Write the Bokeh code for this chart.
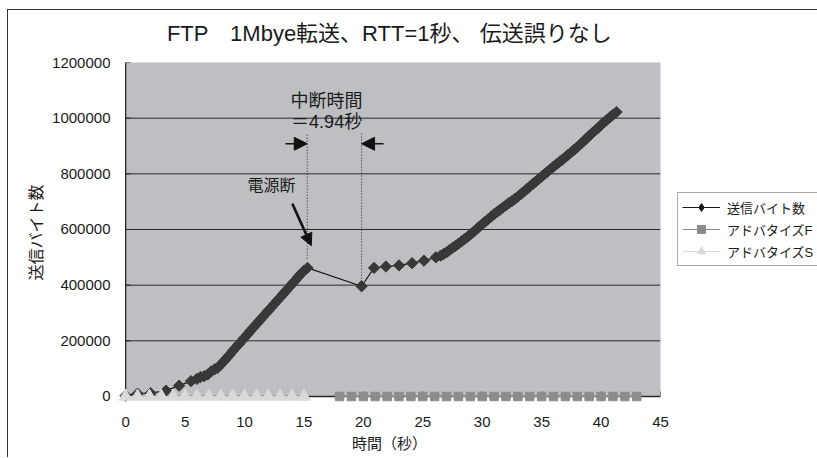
import math
from bokeh.plotting import figure
from bokeh.models import (FixedTicker, BoxAnnotation, Arrow, NormalHead, Label, Title,
                          PrintfTickFormatter, Legend, LegendItem)
from bokeh.embed import file_html
from bokeh.resources import INLINE

# ---------------- data ----------------
sent_t = [0.0, 1.0, 2.1, 3.4, 4.5, 5.5, 6.0, 6.3, 6.6, 6.9, 7.2, 7.5,
          7.75, 8.0, 8.25, 8.5, 8.75, 9.0, 9.25, 9.5, 9.75, 10.0,
          10.25, 10.5, 10.75, 11.0, 11.25, 11.5, 11.75, 12.0, 12.25, 12.5,
          12.75, 13.0, 13.25, 13.5, 13.75, 14.0, 14.25, 14.5, 14.75, 15.0, 15.3,
          19.85, 20.9, 21.9, 23.0, 24.1, 25.1, 26.1,
          26.5, 26.75, 27.0, 27.25, 27.5, 27.75, 28.0, 28.25, 28.5, 28.75,
          29.0, 29.25, 29.5, 29.75, 30.0, 30.25, 30.5, 30.75, 31.0, 31.25,
          31.5, 31.75, 32.0, 32.25, 32.5, 32.75, 33.0, 33.25, 33.5, 33.75,
          34.0, 34.25, 34.5, 34.75, 35.0, 35.25, 35.5, 35.75, 36.0, 36.25,
          36.5, 36.75, 37.0, 37.25, 37.5, 37.75, 38.0, 38.25, 38.5, 38.75,
          39.0, 39.25, 39.5, 39.75, 40.0, 40.25, 40.5, 40.75, 41.0, 41.3]
sent_bytes = [3000, 10000, 12000, 21000, 39000, 55000, 63000, 70000, 73000, 79000, 90000, 98000,
              103000, 114000, 126000, 138000, 150000, 163000, 175000, 187000, 199000, 211000,
              223000, 236000, 248000, 260000, 272000, 284000, 296000, 308000, 320000, 332000,
              344000, 356000, 368000, 380000, 392000, 404000, 416000, 429000, 441000, 452000, 462000,
              396000, 462000, 467000, 471000, 479000, 488000, 500000,
              506000, 512000, 518000, 526000, 534000, 541000, 549000, 557000, 565000, 573000,
              582000, 591000, 600000, 610000, 619000, 628000, 637000, 646000, 655000, 663000,
              671000, 679000, 687000, 695000, 702000, 710000, 718000, 727000, 736000, 745000,
              754000, 763000, 772000, 781000, 790000, 799000, 808000, 817000, 826000, 834000,
              843000, 851000, 860000, 869000, 878000, 887000, 896000, 906000, 916000, 926000,
              936000, 946000, 956000, 965000, 975000, 985000, 994000, 1003000, 1012000, 1022000]

adv_f_t = [18, 19, 20, 21, 22, 23, 24, 25, 26, 27, 28, 29, 30, 31, 32, 33, 34,
           35, 36, 37, 38, 39, 40, 41, 42, 43]
adv_f = [0, 0, 0, 0, 0, 0, 0, 0, 0, 0, 0, 0, 0, 0, 0, 0, 0,
         0, 0, 0, 0, 0, 0, 0, 0, 0]

adv_s_t = [0, 1, 2, 3, 4, 5, 6, 7, 8, 9, 10, 11, 12, 13, 14, 15]
adv_s = [0, 0, 0, 0, 0, 0, 0, 0, 0, 0, 0, 0, 0, 0, 0, 0]

x_ticks = [0, 5, 10, 15, 20, 25, 30, 35, 40, 45]
y_ticks = [0, 200000, 400000, 600000, 800000, 1000000, 1200000]

series_names = ["送信バイト数", "アドバタイズF", "アドバタイズS"]
title_text = "FTP\u30001Mbye転送、RTT=1秒、 伝送誤りなし"

# ---------------- styling ----------------
FONT = "Liberation Sans, Noto Sans CJK JP"
X_MAX = x_ticks[-1]
Y_MAX = y_ticks[-1]

p = figure(frame_width=542, frame_height=340,
           x_range=(-0.6, X_MAX), y_range=(-21600, Y_MAX),
           min_border_left=110, min_border_right=157,
           min_border_top=52, min_border_bottom=56,
           output_backend="svg", toolbar_location=None,
           title=None,
           background_fill_color="white", border_fill_color="white",
           outline_line_color=None,
           styles={"position": "relative", "left": "8px", "top": "10px",
                   "box-shadow": "-1px -1px 0 0 #333333"})

# spacer next to the frame, then the title above it
p.add_layout(Title(text=" ", text_font_size="13px", standoff=0), "above")
p.add_layout(Title(text=title_text, text_font=FONT, text_font_size="22px",
                   text_font_style="normal", text_color="#1a1a1a",
                   align="center", standoff=0), "above")

p.xgrid.visible = False
p.ygrid.visible = False

for ax in (p.xaxis, p.yaxis):
    ax.axis_line_color = None
    ax.major_tick_line_color = None
    ax.minor_tick_line_color = None
    ax.major_tick_in = 0
    ax.major_tick_out = 0
    ax.minor_tick_in = 0
    ax.minor_tick_out = 0
    ax.major_label_text_font = FONT
    ax.major_label_text_font_size = "15px"
    ax.major_label_text_color = "#1a1a1a"
    ax.axis_label_text_font = FONT
    ax.axis_label_text_font_size = "15px"
    ax.axis_label_text_font_style = "normal"
    ax.axis_label_text_color = "#1a1a1a"

p.xaxis.ticker = FixedTicker(ticks=x_ticks)
p.xaxis.major_label_standoff = 14
p.xaxis.axis_label = "時間（秒）"
p.xaxis.axis_label_standoff = 5

p.yaxis.ticker = FixedTicker(ticks=y_ticks)
p.yaxis.formatter = PrintfTickFormatter(format="%d")
p.yaxis.major_label_standoff = 8
p.yaxis.axis_label = "送信バイト数"
p.yaxis.axis_label_text_font_size = "16px"
p.yaxis.axis_label_standoff = 4

# plot area background
p.add_layout(BoxAnnotation(left=0, right=X_MAX, bottom=0, top=Y_MAX,
                           fill_color="#bebfc3", fill_alpha=1.0,
                           line_color="#7a7a7a", line_width=1, level="underlay"))

# horizontal grid lines
grid_y = y_ticks[1:-1]
p.segment(x0=[0] * len(grid_y), x1=[X_MAX] * len(grid_y), y0=grid_y, y1=grid_y,
          line_color="#2a2a2a", line_width=1)

# axis lines + inward ticks
p.segment(x0=[0, 0], y0=[0, 0], x1=[X_MAX, 0], y1=[0, Y_MAX], line_color="#2a2a2a", line_width=1.3)
p.segment(x0=x_ticks, x1=x_ticks, y0=[0] * len(x_ticks), y1=[18000] * len(x_ticks),
          line_color="#2a2a2a", line_width=1)
p.segment(x0=[0] * len(y_ticks), x1=[0.42] * len(y_ticks), y0=y_ticks, y1=y_ticks,
          line_color="#2a2a2a", line_width=1)

# series
l1 = p.line(sent_t, sent_bytes, line_color="#1a1a1a", line_width=1.2)
# diamond symbol used for the legend entry (sits hidden beneath the main markers)
k1 = p.scatter(sent_t, sent_bytes, marker="diamond", size=9,
               fill_color="#1a1a1a", line_color="#1a1a1a")
m1 = p.scatter(sent_t, sent_bytes, marker="square", angle=math.pi / 4, size=8,
               fill_color="#383838", line_color="#383838")

l2 = p.line(adv_f_t, adv_f, line_color="#8c8c8c", line_width=1)
m2 = p.scatter(adv_f_t, adv_f, marker="square", size=8.5,
               fill_color="#8c8c8c", line_color="#8c8c8c")

l3 = p.line(adv_s_t, adv_s, line_color="#d9d9d9", line_width=1)
m3 = p.scatter(adv_s_t, adv_s, marker="triangle", size=13,
               fill_color="#d9d9d9", line_color="#d9d9d9")

# annotations
cut_t, resume_t = 15.28, 19.85
p.segment(x0=[cut_t, resume_t], x1=[cut_t, resume_t], y0=[495000, 402000], y1=[944000, 944000],
          line_color="#222222", line_width=1, line_dash="1 2")

head = dict(fill_color="#111111", line_color="#111111")
p.add_layout(Arrow(end=NormalHead(size=13, **head), x_start=13.45, y_start=908000,
                   x_end=cut_t, y_end=908000, line_color="#111111", line_width=1.5))
p.add_layout(Arrow(end=NormalHead(size=13, **head), x_start=21.7, y_start=908000,
                   x_end=resume_t, y_end=908000, line_color="#111111", line_width=1.5))
p.add_layout(Arrow(end=NormalHead(size=12, **head), x_start=14.02, y_start=693000,
                   x_end=15.62, y_end=542000, line_color="#111111", line_width=2.5))

for txt, x, y, fs in [("中断時間", 16.91, 1063000, "18px"),
                      ("＝4.94秒", 16.91, 988000, "18px"),
                      ("電源断", 12.28, 758000, "16px")]:
    p.add_layout(Label(x=x, y=y, text=txt, text_align="center", text_baseline="middle",
                       text_font=FONT, text_font_size=fs, text_color="#1a1a1a"))

# legend (right side panel)
lg = Legend(items=[LegendItem(label=series_names[0], renderers=[l1, k1]),
                   LegendItem(label=series_names[1], renderers=[l2, m2]),
                   LegendItem(label=series_names[2], renderers=[l3, m3])],
            location=(17, 136))
lg.label_text_font = FONT
lg.label_text_font_size = "13px"
lg.label_text_color = "#1a1a1a"
lg.glyph_width = 38
lg.glyph_height = 20
lg.label_height = 20
lg.label_width = 100
lg.label_standoff = 7
lg.spacing = 2
lg.padding = 4
lg.margin = 0
lg.border_line_color = "#555555"
lg.border_line_width = 1
lg.background_fill_color = "white"
lg.background_fill_alpha = 1.0
p.add_layout(lg, "right")

open("out.html", "w").write(file_html(p, INLINE))
